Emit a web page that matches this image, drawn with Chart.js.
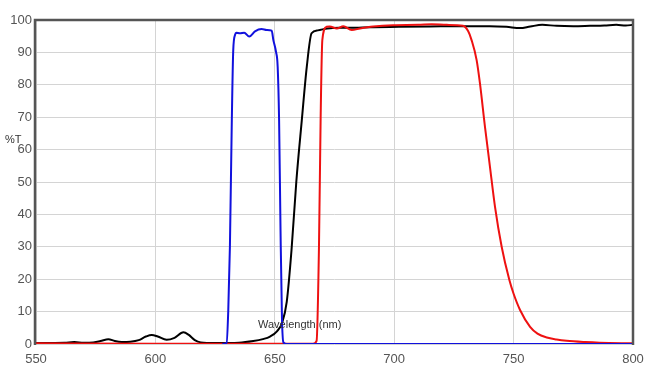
<!DOCTYPE html>
<html>
<head>
<meta charset="utf-8">
<script src="https://cdn.jsdelivr.net/npm/chart.js@4"></script>
<style>
  html, body { margin: 0; padding: 0; background: #fff; }
  #wrap { width: 657px; height: 380px; }
</style>
</head>
<body>
<div id="wrap"><canvas id="filters"></canvas></div>
<script>
// wavelength (nm) / transmission (%T)
var blackNm = [550, 558, 562, 566, 570, 574, 577, 580.3, 583, 586, 589.4, 593, 596, 598.5, 601, 604.7, 608, 611.7, 614, 616.5, 619, 625, 635, 641, 645, 648, 651, 653, 655, 657, 659, 661.3, 663.4, 665.4, 668, 672, 677, 682, 690, 702, 715, 730, 740, 747, 752.7, 757, 762, 768, 775, 782, 788, 793, 797, 800];
var blackT = [0.3, 0.3, 0.35, 0.6, 0.4, 0.5, 0.9, 1.5, 0.9, 0.6, 0.7, 1.2, 2.3, 2.8, 2.3, 1.3, 1.9, 3.6, 2.8, 1.2, 0.5, 0.3, 0.4, 0.9, 1.5, 2.3, 4, 6.4, 13, 29, 50, 69, 85.6, 95.9, 96.8, 97.4, 97.6, 97.6, 97.8, 97.9, 98, 98.1, 98.1, 97.9, 97.5, 98, 98.5, 98.2, 98.1, 98.2, 98.3, 98.5, 98.3, 98.5];

var redNm = [550, 600, 650, 666, 667.5, 668.5, 669.2, 669.9, 671.7, 673, 676, 678.7, 682.2, 685.7, 691.2, 699.5, 710, 715.7, 722, 728.8, 731, 732.4, 734.5, 735.9, 738, 740.1, 742.2, 745, 748.2, 750, 752.7, 756.9, 760, 763.9, 768, 772.2, 780, 786, 800];
var redT = [0.2, 0.1, 0.1, 0.1, 1, 30, 70, 93.8, 97.9, 98, 97.4, 98.1, 96.9, 97.4, 98, 98.4, 98.5, 98.7, 98.5, 98.2, 96.5, 93.8, 87.7, 80.5, 67.1, 54.7, 42.4, 30, 19.8, 15.5, 10.5, 5.3, 3.2, 2, 1.4, 1, 0.6, 0.4, 0.2];

var blueNm = [628, 629.8, 630.5, 631.2, 632, 632.6, 633.4, 633.8, 635.4, 637.2, 639.3, 641.7, 644.5, 646.6, 648.7, 649.4, 650.5, 651.2, 651.8, 652.4, 653, 653.6, 655, 800];
var blueT = [0, 0.3, 10, 30, 69, 90.7, 95.5, 96.1, 95.9, 96.1, 94.9, 96.5, 97.2, 96.9, 96.7, 93.8, 90.2, 85.6, 69, 35, 8, 0.5, 0, 0];

var xTicks = [550, 600, 650, 700, 750, 800];
var yTicks = [0, 10, 20, 30, 40, 50, 60, 70, 80, 90, 100];

function toPoints(xs, ys) {
    var pts = [];
    for (var i = 0; i < xs.length; i++) {
        pts.push({ x: xs[i], y: ys[i] });
    }
    return pts;
}

// frame on left/top/right plus the two captions
var extras = {
    id: 'extras',
    afterDatasetsDraw: function(chart) {
        var ctx = chart.ctx;
        var a = chart.chartArea;
        ctx.save();
        ctx.strokeStyle = '#555';
        ctx.lineWidth = 2.5;
        ctx.beginPath();
        ctx.moveTo(a.left - 1, a.bottom + 1);
        ctx.lineTo(a.left - 1, a.top);
        ctx.lineTo(a.right, a.top);
        ctx.lineTo(a.right, a.bottom + 1);
        ctx.stroke();

        ctx.fillStyle = '#333';
        ctx.font = '11px "Liberation Sans", Arial, sans-serif';
        ctx.textBaseline = 'middle';
        ctx.textAlign = 'left';
        ctx.fillText('%T', 5, 140);
        ctx.fillText('Wavelength (nm)', 258, 325);
        ctx.restore();
    }
};

var tickFont = { family: '"Liberation Sans", Arial, sans-serif', size: 13 };

var ctx = document.getElementById('filters');
var chart = new Chart(ctx, {
    type: 'line',
    data: {
        datasets: [{
            label: 'black',
            data: toPoints(blackNm, blackT),
            borderColor: '#000',
            order: 3
        }, {
            label: 'red',
            data: toPoints(redNm, redT),
            borderColor: '#ee1111',
            order: 2
        }, {
            label: 'blue',
            data: toPoints(blueNm, blueT),
            borderColor: '#1111dd',
            order: 1
        }]
    },
    options: {
        responsive: true,
        maintainAspectRatio: false,
        animation: false,
        devicePixelRatio: 1,
        layout: { padding: { left: 0, top: 20, right: 24, bottom: 0 } },
        elements: {
            point: { radius: 0 },
            line: { borderWidth: 2, cubicInterpolationMode: 'monotone' }
        },
        plugins: {
            legend: { display: false },
            tooltip: { enabled: false }
        },
        scales: {
            x: {
                type: 'linear',
                min: 550,
                max: 800,
                afterFit: function(scale) { scale.height = 36; },
                afterBuildTicks: function(scale) {
                    scale.ticks = xTicks.map(function(v) { return { value: v }; });
                },
                grid: { color: '#d4d4d4', drawTicks: false },
                border: { display: false },
                ticks: { color: '#555', font: tickFont, padding: 8, maxRotation: 0 }
            },
            y: {
                min: 0,
                max: 100,
                afterFit: function(scale) { scale.width = 36; },
                afterBuildTicks: function(scale) {
                    scale.ticks = yTicks.map(function(v) { return { value: v }; });
                },
                grid: { color: '#d4d4d4', drawTicks: false },
                border: { display: false },
                ticks: { color: '#555', font: tickFont, padding: 4 }
            }
        }
    },
    plugins: [extras]
});
</script>
</body>
</html>
